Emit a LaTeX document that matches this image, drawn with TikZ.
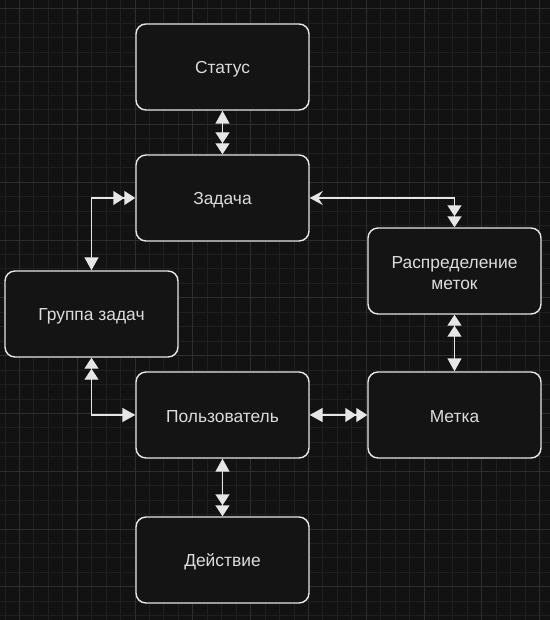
\documentclass[tikz,border=0pt]{standalone}
\usepackage{fontspec}
\setmainfont{Liberation Sans}
\usetikzlibrary{arrows.meta}
\definecolor{bgc}{HTML}{121212}
\definecolor{boxfill}{HTML}{141414}
\definecolor{gridminor}{HTML}{1F1F1F}
\definecolor{gridmajor}{HTML}{2E2E2E}
\definecolor{edgec}{HTML}{E6E6E6}
\definecolor{textc}{HTML}{DCDCDC}
\tikzset{
  entity/.style={draw=edgec, fill=boxfill, line width=1.45bp, rounded corners=10bp,
    minimum width=173bp, minimum height=86bp, align=center, text=textc,
    font=\fontsize{17.4bp}{20.5bp}\selectfont, inner sep=0pt},
  lbl/.style={text=textc, align=center, font=\fontsize{17.4bp}{20.5bp}\selectfont, inner sep=0pt},
  conn/.style={draw=edgec, line width=1.45bp},
  one/.tip={Triangle[length=13bp, width=14bp]},
  two/.tip={Triangle[length=11bp, width=14bp] Triangle[length=11bp, width=14bp]},
  notch/.tip={Stealth[length=13bp, width=14bp, inset=4.5bp]},
}
\begin{document}
\begin{tikzpicture}[x=1bp, y=-1bp]
\fill[bgc] (0,0) rectangle (550,620);
\useasboundingbox (0,0) rectangle (550,620);
% grid
\foreach \i in {-1,...,38} {
  \draw[gridminor, line width=0.7bp] ({19.3+14.45*\i},0) -- ({19.3+14.45*\i},620);
}
\foreach \i in {0,...,43} {
  \draw[gridminor, line width=0.7bp] (0,{8.7+14.45*\i}) -- (550,{8.7+14.45*\i});
}
\foreach \i in {0,...,9} {
  \draw[gridmajor, line width=0.8bp] ({19.3+57.8*\i},0) -- ({19.3+57.8*\i},620);
}
\foreach \i in {0,...,10} {
  \draw[gridmajor, line width=0.8bp] (0,{8.7+57.8*\i}) -- (550,{8.7+57.8*\i});
}
% nodes
\node[entity] (status) at (222.5,67) {};
\node[entity] (task) at (222.5,198) {};
\node[entity] (dist) at (454.5,271) {};
\node[entity] (group) at (91.5,314) {};
\node[entity] (user) at (222.5,415) {};
\node[entity] (label) at (454.5,415) {};
\node[entity] (action) at (222.5,560) {};
% labels
\node[lbl] (tstatus) at ([yshift=-2bp]status.center) {Статус};
\node[lbl] (ttask) at ([yshift=-2bp]task.center) {Задача};
\node[lbl] (tdist) at ([yshift=-2bp]dist.center) {Распределение\\меток};
\node[lbl] (tgroup) at ([yshift=-2bp]group.center) {Группа задач};
\node[lbl] (tuser) at ([yshift=-2bp]user.center) {Пользователь};
\node[lbl] (tlabel) at ([yshift=-2bp]label.center) {Метка};
\node[lbl] (taction) at ([yshift=-2bp]action.center) {Действие};
% connectors
\draw[conn, {one}-{two}] (status.south) -- (task.north);
\draw[conn, {one}-{two}] (group.north) |- (task.west);
\draw[conn, {notch}-{two}] (task.east) -| (dist.north);
\draw[conn, {two}-{one}] (dist.south) -- (label.north);
\draw[conn, {two}-{one}] (group.south) |- (user.west);
\draw[conn, {one}-{two}] (user.east) -- (label.west);
\draw[conn, {one}-{two}] (user.south) -- (action.north);
\end{tikzpicture}
\end{document}
